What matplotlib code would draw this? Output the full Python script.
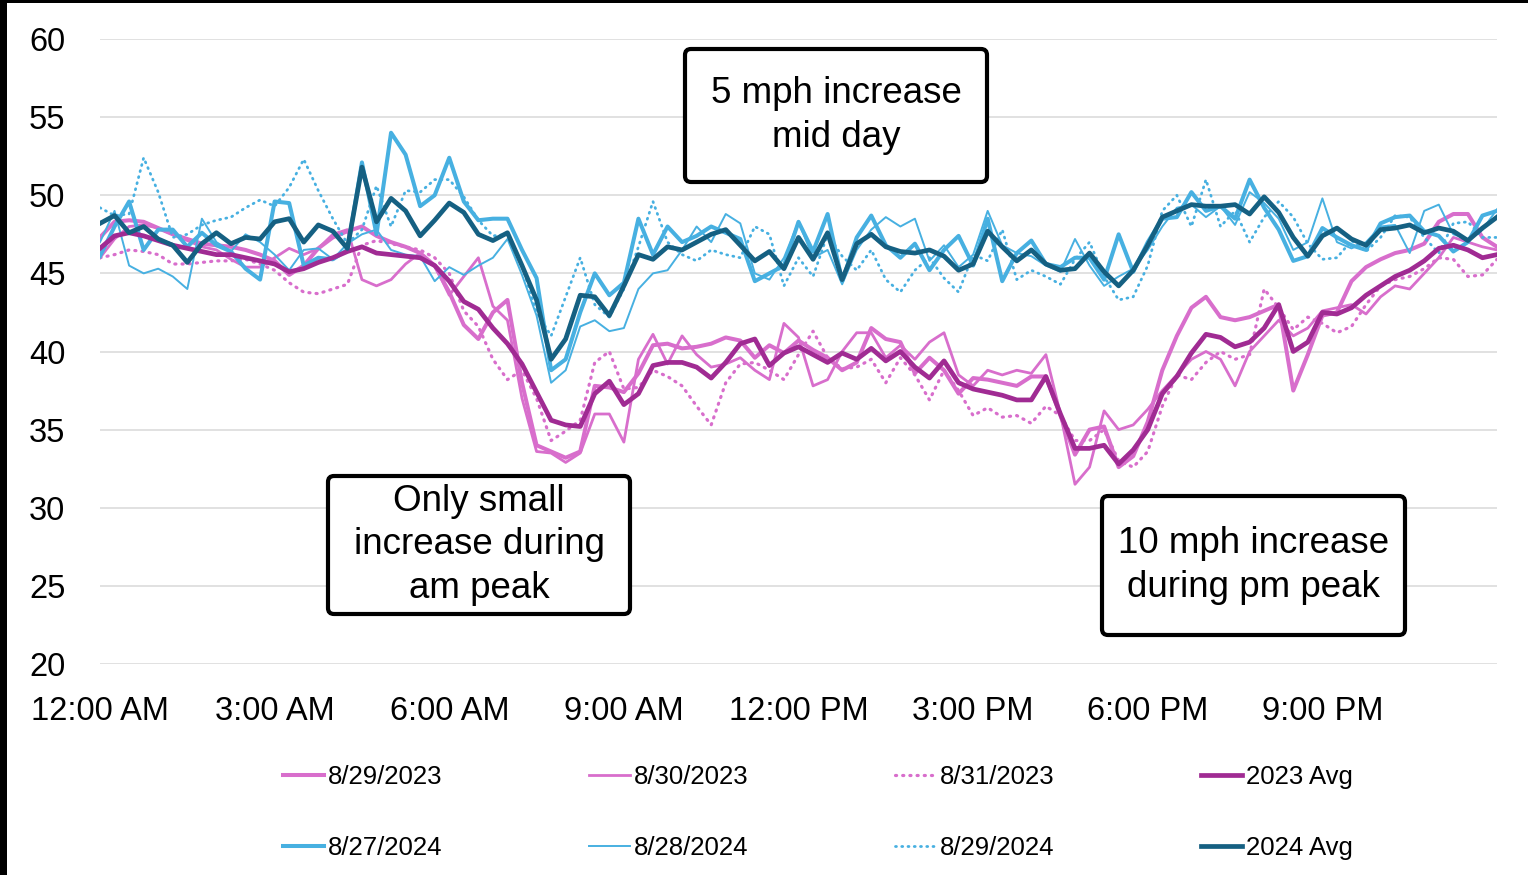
import numpy as np
import matplotlib.pyplot as plt
from matplotlib.patches import FancyBboxPatch, Rectangle

# --- data: average speed (mph), one reading every 15 min from 12:00 AM ---
hours = np.arange(97) * 0.25

spd_2023_08_29 = [
    47.3, 48.3, 48.4, 48.3, 47.9, 47.5, 47.2, 46.9, 46.8, 46.7, 46.5, 46.2,
    45.8, 44.9, 45.5, 46.6, 47.3, 47.7, 48.0, 47.4, 47.0, 46.7, 46.3, 45.5,
    43.8, 41.7, 40.8, 42.5, 43.3, 38.0, 34.0, 33.6, 33.2, 33.6, 37.8, 37.7,
    37.4, 38.6, 40.4, 40.5, 40.2, 40.3, 40.5, 40.9, 40.7, 39.6, 40.4, 39.9,
    40.7, 40.1, 39.6, 38.8, 39.3, 41.5, 40.8, 40.6, 38.6, 39.6, 38.8, 37.3,
    38.3, 38.2, 38.0, 37.8, 38.4, 38.4, 35.9, 33.4, 35.0, 35.2, 32.6, 33.3,
    35.5, 38.8, 41.0, 42.8, 43.5, 42.2, 42.0, 42.2, 42.6, 43.0, 37.5, 39.8,
    42.3, 42.5, 44.5, 45.4, 45.9, 46.3, 46.5, 46.9, 48.3, 48.8, 48.8, 47.3,
    46.7]
spd_2023_08_30 = [
    46.0, 47.2, 48.0, 48.1, 47.9, 47.5, 47.1, 46.7, 46.5, 45.9, 45.4, 45.4,
    46.0, 46.6, 46.2, 46.6, 47.5, 47.8, 44.6, 44.2, 44.6, 45.6, 46.3, 45.5,
    43.6, 44.8, 46.0, 42.9, 42.0, 37.0, 33.6, 33.5, 32.9, 33.5, 36.0, 36.0,
    34.2, 39.5, 41.1, 39.2, 41.0, 39.8, 39.0, 39.2, 39.6, 38.8, 38.2, 41.8,
    40.9, 37.8, 38.2, 40.0, 41.2, 41.2, 39.6, 40.4, 39.5, 40.6, 41.2, 38.5,
    37.8, 38.8, 38.5, 38.8, 38.6, 39.8, 36.0, 31.5, 32.6, 36.2, 35.0, 35.3,
    36.3, 37.5, 38.5, 39.5, 40.0, 39.5, 37.8, 40.0, 41.0, 42.0, 41.0, 41.5,
    42.6, 42.8, 43.0, 42.4, 43.5, 44.2, 44.0, 45.0, 46.0, 47.3, 47.0, 46.7,
    46.5]
spd_2023_08_31 = [
    46.0, 46.2, 46.5, 46.4, 46.2, 45.6, 45.6, 45.7, 45.8, 45.8, 45.9, 45.6,
    45.2, 44.4, 43.8, 43.7, 44.0, 44.3, 46.8, 47.1, 46.9, 46.7, 46.5, 46.0,
    45.0, 42.6, 41.6, 39.5, 38.2, 38.8, 37.0, 34.3, 34.9, 35.6, 39.3, 40.0,
    37.6, 37.7, 38.8, 38.4, 37.8, 36.5, 35.3, 38.0, 39.2, 39.3, 38.8, 38.2,
    39.8, 41.3, 39.6, 38.9, 39.0, 39.5, 38.0, 39.6, 38.5, 36.9, 38.8, 37.5,
    35.9, 36.4, 35.8, 35.9, 35.4, 36.5, 35.9, 34.3, 34.3, 35.0, 33.0, 32.6,
    33.6, 36.5, 38.5, 38.2, 39.3, 40.0, 39.5, 39.8, 44.0, 42.8, 41.4, 42.2,
    41.8, 41.2, 41.6, 43.0, 44.2, 44.6, 44.8, 45.3, 46.0, 45.9, 44.8, 44.9,
    45.9]
spd_2023_avg = [
    46.6, 47.4, 47.6, 47.4, 47.1, 46.8, 46.6, 46.4, 46.2, 46.2, 46.0, 45.8,
    45.6, 45.1, 45.3, 45.7, 46.0, 46.4, 46.7, 46.3, 46.2, 46.1, 46.0, 45.5,
    44.5, 43.2, 42.7, 41.5, 40.5, 39.2, 37.4, 35.6, 35.3, 35.2, 37.3, 38.1,
    36.6, 37.3, 39.1, 39.3, 39.3, 39.0, 38.3, 39.3, 40.5, 40.8, 39.1, 39.9,
    40.3, 39.8, 39.3, 39.9, 39.5, 40.2, 39.4, 40.0, 39.0, 38.3, 39.4, 38.0,
    37.6, 37.4, 37.2, 36.9, 36.9, 38.4, 36.0, 33.8, 33.8, 34.0, 32.8, 33.7,
    35.0, 37.3, 38.4, 39.9, 41.1, 40.9, 40.3, 40.6, 41.5, 43.0, 40.0, 40.6,
    42.5, 42.4, 42.8, 43.6, 44.2, 44.8, 45.2, 45.8, 46.6, 46.8, 46.5, 46.0,
    46.2]

spd_2024_08_27 = [
    46.1, 48.0, 49.6, 46.5, 47.8, 47.8, 46.7, 47.6, 46.8, 46.4, 45.3, 44.6,
    49.6, 49.5, 45.5, 46.0, 45.9, 46.5, 52.1, 47.5, 54.0, 52.6, 49.3, 50.0,
    52.4, 49.6, 48.4, 48.5, 48.5, 46.5, 44.7, 38.8, 39.5, 42.5, 45.0, 43.6,
    44.4, 48.5, 46.2, 48.0, 47.0, 47.4, 48.0, 47.6, 47.2, 44.5, 45.0, 45.5,
    48.3, 46.4, 48.8, 44.5, 47.3, 48.7, 46.8, 46.0, 46.9, 45.2, 46.5, 47.4,
    45.5, 48.5, 44.5, 46.3, 47.1, 45.6, 45.4, 46.0, 46.0, 44.6, 47.5, 45.1,
    47.0, 48.5, 48.6, 50.2, 49.0, 49.3, 48.5, 51.0, 49.2, 47.8, 45.8, 46.1,
    47.9, 47.3, 46.8, 46.5, 48.2, 48.6, 48.7, 47.7, 47.4, 46.4, 47.0, 48.7,
    49.0]
spd_2024_08_28 = [
    47.0, 49.0, 45.5, 45.0, 45.3, 44.8, 44.0, 48.5, 47.0, 46.4, 47.5, 47.0,
    46.2, 45.2, 46.5, 46.6, 45.9, 46.9, 47.5, 47.8, 46.5, 46.2, 46.1, 44.5,
    45.4, 44.9, 45.5, 46.0, 47.2, 44.9, 42.3, 38.0, 38.8, 41.6, 42.0, 41.3,
    41.5, 44.0, 45.0, 45.2, 46.5, 48.0, 47.0, 48.8, 48.2, 45.0, 44.6, 46.0,
    48.3, 46.0, 46.5, 44.3, 46.5, 47.8, 48.6, 48.0, 48.5, 45.8, 46.8, 45.4,
    46.2, 49.0, 46.8, 46.3, 46.1, 45.5, 45.1, 47.2, 45.5, 44.2, 44.8, 45.3,
    46.5, 48.0, 49.2, 49.4, 48.6, 49.3, 48.1, 50.2, 49.5, 48.5, 46.5, 47.0,
    49.8, 47.0, 46.6, 47.0, 48.0, 48.1, 46.3, 49.0, 49.4, 47.5, 47.2, 47.8,
    49.1]
spd_2024_08_29 = [
    49.2, 48.7, 48.8, 52.4, 50.2, 47.3, 47.5, 48.1, 48.4, 48.6, 49.2, 49.7,
    49.3, 50.5, 52.3, 50.3, 48.5, 46.9, 47.8, 50.6, 48.0, 50.3, 50.2, 51.0,
    51.0, 49.9, 48.4, 47.4, 47.5, 45.5, 42.5, 41.0, 43.5, 46.0, 43.0, 42.2,
    44.0, 46.7, 49.6, 47.0, 46.2, 45.8, 46.5, 46.2, 46.0, 48.0, 47.5, 44.2,
    46.0, 44.8, 47.5, 46.1, 45.2, 46.5, 44.6, 43.8, 45.2, 46.0, 44.7, 43.8,
    46.2, 45.8, 47.8, 44.6, 45.2, 44.8, 44.3, 45.9, 47.0, 44.8, 43.3, 43.5,
    45.5, 49.0, 50.0, 48.0, 51.0, 48.0, 49.0, 47.0, 48.6, 49.6, 48.6, 46.9,
    45.9, 46.0, 47.1, 46.4, 47.3, 48.7, 48.6, 47.3, 46.3, 48.2, 48.3, 47.3,
    47.3]
spd_2024_avg = [
    48.2, 48.7, 47.6, 48.0, 47.2, 46.8, 45.7, 46.9, 47.6, 46.9, 47.3, 47.2,
    48.3, 48.5, 47.0, 48.1, 47.7, 46.6, 51.8, 48.3, 49.8, 49.0, 47.4, 48.4,
    49.5, 48.9, 47.5, 47.1, 47.6, 45.5, 43.3, 39.5, 40.8, 43.6, 43.5, 42.3,
    44.2, 46.2, 45.9, 46.7, 46.5, 47.0, 47.5, 47.8, 46.8, 45.8, 46.4, 45.3,
    47.3, 45.9, 47.6, 44.6, 46.9, 47.5, 46.7, 46.4, 46.3, 46.5, 46.1, 45.2,
    45.6, 47.7, 46.7, 45.8, 46.5, 45.6, 45.2, 45.3, 46.3, 45.1, 44.2, 45.2,
    46.8, 48.6, 49.0, 49.4, 49.3, 49.3, 49.4, 48.8, 49.9, 48.9, 47.3, 46.1,
    47.4, 47.9, 47.2, 46.8, 47.8, 47.9, 48.1, 47.6, 47.9, 47.7, 47.1, 47.9,
    48.6]

tick_hours = [0, 3, 6, 9, 12, 15, 18, 21]
tick_labels = ["12:00 AM", "3:00 AM", "6:00 AM", "9:00 AM",
               "12:00 PM", "3:00 PM", "6:00 PM", "9:00 PM"]

notes = ["5 mph increase\nmid day",
         "Only small\nincrease during\nam peak",
         "10 mph increase\nduring pm peak"]

PINK = "#D86ECC"
MAGENTA = "#A02B93"
SKY = "#47B0E1"
TEAL = "#156082"
DOT = (0, (0.35, 1.9))

plt.rcParams['font.family'] = ['Liberation Sans', 'DejaVu Sans']

fig = plt.figure(figsize=(15.28, 8.75), dpi=100)
ax = fig.add_axes([100 / 1528, 1 - 664 / 875, 1397 / 1528, 625 / 875])

series = [
    (spd_2023_08_29, "8/29/2023", dict(color=PINK, lw=2.9)),
    (spd_2024_08_27, "8/27/2024", dict(color=SKY, lw=2.9)),
    (spd_2023_08_30, "8/30/2023", dict(color=PINK, lw=2.0)),
    (spd_2024_08_28, "8/28/2024", dict(color=SKY, lw=1.4)),
    (spd_2023_08_31, "8/31/2023", dict(color=PINK, lw=2.3, ls=DOT, dash_capstyle='round')),
    (spd_2024_08_29, "8/29/2024", dict(color=SKY, lw=2.0, ls=DOT, dash_capstyle='round')),
    (spd_2023_avg, "2023 Avg", dict(color=MAGENTA, lw=3.4)),
    (spd_2024_avg, "2024 Avg", dict(color=TEAL, lw=3.4)),
]
# draw order: 2023 days, 2024 days, then the averages on top
draw_order = [0, 2, 4, 1, 3, 5, 6, 7]
handles = [None] * len(series)
for k in draw_order:
    vals, lab, style = series[k]
    ln, = ax.plot(hours, vals, label=lab, solid_joinstyle='round', **style)
    handles[k] = ln

ax.set_xlim(0, 24)
ax.set_ylim(20, 60)
ax.set_yticks(range(20, 61, 5))
ax.set_xticks(tick_hours)
ax.set_xticklabels(tick_labels)
ax.grid(axis='y', color='#D9D9D9', lw=1.1)
ax.set_axisbelow(True)
for s in ax.spines.values():
    s.set_visible(False)
ax.tick_params(axis='y', length=0, pad=25, labelsize=23.5)
ax.tick_params(axis='x', length=0, pad=23, labelsize=23.5)

# annotation boxes, positioned in inches from the lower left corner
boxes = [(6.85, 6.93, 3.02, 1.33), (3.28, 2.61, 3.02, 1.38), (11.02, 2.40, 3.03, 1.39)]
for (x0, y0, w, h), txt in zip(boxes, notes):
    fig.patches.append(FancyBboxPatch(
        (x0, y0), w, h, boxstyle="round,pad=0,rounding_size=0.06",
        transform=fig.dpi_scale_trans, facecolor='white', edgecolor='black',
        lw=3, zorder=5))
    fig.text(x0 + w / 2, y0 + h / 2, txt, transform=fig.dpi_scale_trans,
             ha='center', va='center', fontsize=26.5, linespacing=1.3, zorder=6)

fig.legend(handles=handles, loc='center', ncol=4, frameon=False,
           bbox_to_anchor=(818 / 1528, 1 - 812.5 / 875), fontsize=18.5,
           handlelength=1.6, handletextpad=0.15, columnspacing=5.7,
           labelspacing=1.85)

# dark frame strips on the left and top edge
fig.patches.append(Rectangle((0, 0), 7 / 1528, 1, transform=fig.transFigure,
                             facecolor='black', edgecolor='none'))
fig.patches.append(Rectangle((0, 1 - 3 / 875), 1, 3 / 875, transform=fig.transFigure,
                             facecolor='black', edgecolor='none'))

fig.savefig("out.png", dpi=100)
